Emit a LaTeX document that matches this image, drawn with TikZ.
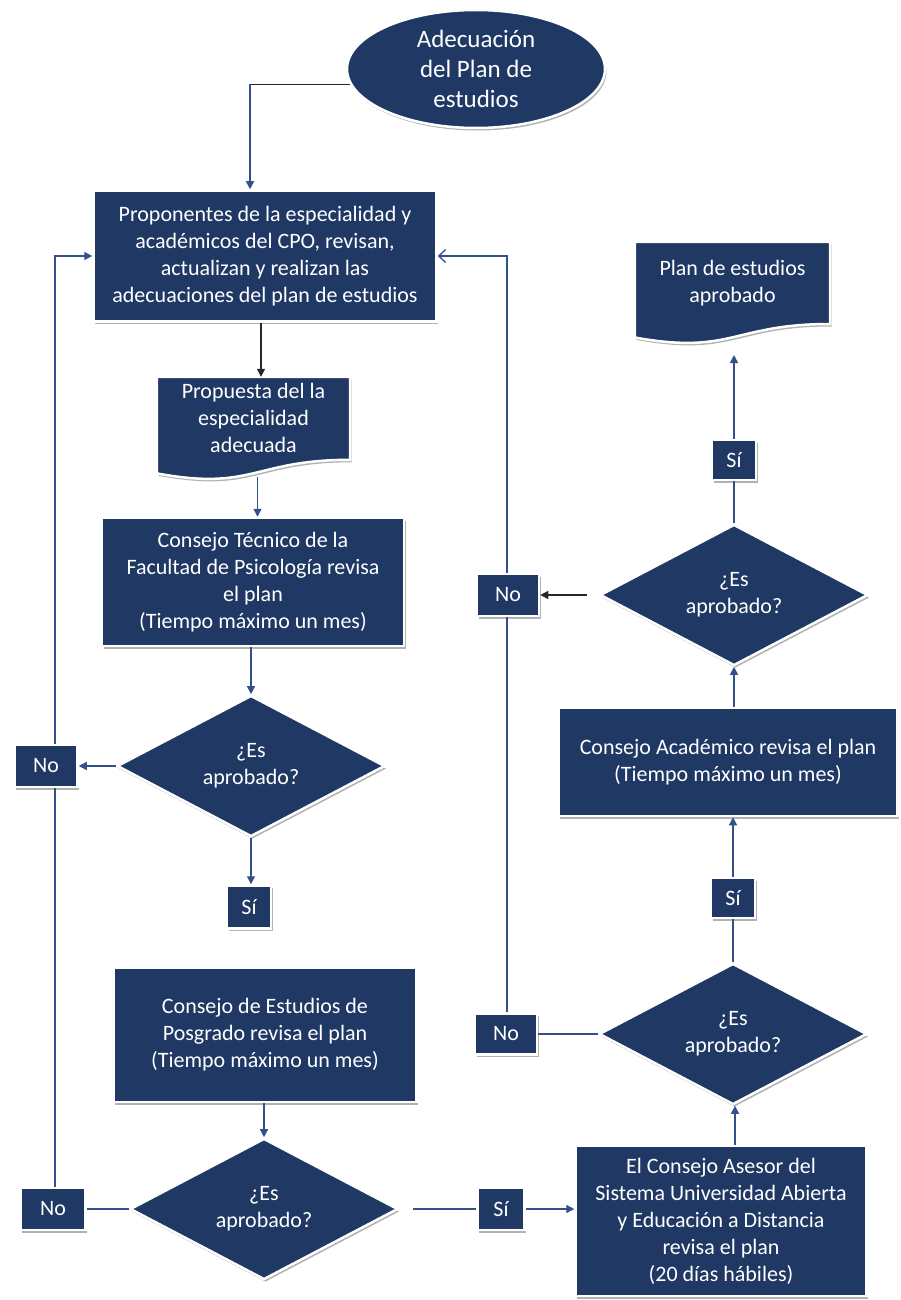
\documentclass[tikz,border=0pt]{standalone}
\usepackage{fontspec}
\setmainfont{Carlito}
\usetikzlibrary{shapes.geometric,arrows.meta,shadows,calc,backgrounds}
\definecolor{navy}{RGB}{31,56,100}
\definecolor{connc}{RGB}{52,80,138}
\tikzset{
  shade1/.style={drop shadow={shadow xshift=1.5pt,shadow yshift=-2.5pt,opacity=0.3,fill=black}},
  base/.style={fill=navy,draw=white,line width=2.5pt,text=white,align=center,inner sep=0pt,
    font=\fontsize{22}{27}\selectfont,shade1},
  box/.style={base,rectangle},
  dia/.style={base,diamond,minimum width=268pt,minimum height=120pt},
  ell/.style={base,ellipse,font=\fontsize{25}{30}\selectfont},
  doctext/.style={rectangle,text=white,align=center,inner sep=0pt,font=\fontsize{22}{27}\selectfont},
  docpath/.style={fill=navy,draw=white,line width=2.5pt,shade1},
  line/.style={draw=connc,line width=1.3pt},
  arr/.style={line,-{Triangle[length=8pt,width=8pt]}},
  blk/.style={draw=black!85,line width=1.3pt},
  blkarr/.style={blk,-{Triangle[length=8pt,width=8pt]}},
  barb/.style={line,-{Straight Barb[length=7pt,width=13pt]}}
}
\begin{document}
\begin{tikzpicture}[x=1pt,y=-1pt]
\useasboundingbox (0,0) rectangle (901,1300);

% nodes
\node[ell,minimum width=258pt,minimum height=118pt] (ell) at (476,69) {Adecuación\\del Plan de\\estudios};
\node[box,minimum width=343pt,minimum height=131pt] (box1) at (265,256)
  {Proponentes de la especialidad y\\académicos del CPO, revisan,\\actualizan y realizan las\\adecuaciones del plan de estudios};
\node[doctext,minimum width=193pt,minimum height=82.6pt] (d1) at (253.5,418.3)
  {Propuesta del la\\especialidad\\adecuada};
\node[box,minimum width=302pt,minimum height=128pt] (box2) at (253,582)
  {Consejo Técnico de la\\Facultad de Psicología revisa\\el plan\\(Tiempo máximo un mes)};
\node[dia] (dia1) at (251,766) {¿Es\\aprobado?};
\node[box,minimum width=63pt,minimum height=42pt] (no1) at (46,766) {No};
\node[box,minimum width=44pt,minimum height=43pt] (si1) at (249,907) {Sí};
\node[box,minimum width=303pt,minimum height=134pt] (box3) at (265,1035)
  {Consejo de Estudios de\\Posgrado revisa el plan\\(Tiempo máximo un mes)};
\node[dia] (dia2) at (264,1209) {¿Es\\aprobado?};
\node[box,minimum width=65pt,minimum height=42pt] (no2) at (53,1209) {No};
\node[box,minimum width=47pt,minimum height=42pt] (si2) at (501,1209) {Sí};
\node[box,minimum width=291pt,minimum height=150pt] (box4) at (721,1221)
  {El Consejo Asesor del\\Sistema Universidad Abierta\\y Educación a Distancia\\revisa el plan\\(20 días hábiles)};
\node[dia] (dia3) at (733,1034) {¿Es\\aprobado?};
\node[box,minimum width=62pt,minimum height=41pt] (no3) at (506,1034) {No};
\node[box,minimum width=44pt,minimum height=40pt] (si3) at (733,898) {Sí};
\node[box,minimum width=339pt,minimum height=108pt] (box5) at (728,762)
  {Consejo Académico revisa el plan\\(Tiempo máximo un mes)};
\node[dia] (dia4) at (734,595) {¿Es\\aprobado?};
\node[box,minimum width=62pt,minimum height=42pt] (no4) at (508,595) {No};
\node[box,minimum width=44pt,minimum height=40pt] (si4) at (734,460) {Sí};
\node[doctext,minimum width=195pt,minimum height=81.8pt] (d2) at (732.5,282.9)
  {Plan de estudios\\aprobado};

% document shapes
\begin{pgfonlayer}{background}
\path[docpath] (d1.north west) -- (d1.north east) -- (d1.south east)
  .. controls (d1.south) and ($(d1.south)+(0,31.4)$) .. ($(d1.south west)+(0,13.6)$) -- cycle;
\path[docpath] (d2.north west) -- (d2.north east) -- (d2.south east)
  .. controls (d2.south) and ($(d2.south)+(0,31.1)$) .. ($(d2.south west)+(0,13.5)$) -- cycle;
\end{pgfonlayer}

% helper coordinates
\coordinate (k1) at ($(ell.187 -| box1.north)+(-15,0)$);
\coordinate (k2) at (261,0);
\coordinate (d1b) at ($(d1.south)+(4,17)$);
\coordinate (k4) at (55,0);
\coordinate (k6) at (507,0);
\coordinate (k5) at (735,0);
\coordinate (d2b) at ($(d2.south)+(0,31)$);

% connectors
\draw[blk] (ell.187) -- (k1);
\draw[arr] (k1) -- (k1 |- box1.north);
\draw[blkarr] (box1.south -| k2) -- (d1.north -| k2);
\draw[arr] (d1b) -- (d1b |- box2.north);
\draw[arr] (box2.south -| dia1.north) -- (dia1.north);
\draw[arr] (dia1.west) -- (dia1.west -| no1.east);
\draw[arr] (no1.north -| k4) |- (box1.west);
\draw[arr] (dia1.south) -- (dia1.south |- si1.north);
\draw[arr] (box3.south -| dia2.north) -- (dia2.north);
\draw[line] (dia2.west) -- (dia2.west -| no2.east);
\draw[line] (no2.north -| k4) -- (no1.south -| k4);
\draw[line,shorten <=14pt] (dia2.east) -- (dia2.east -| si2.west);
\draw[arr] (si2.east) -- (si2.east -| box4.west);
\draw[arr] (box4.north -| k5) -- (dia3.south -| k5);
\draw[line] (dia3.west) -- (dia3.west -| no3.east);
\draw[line] (no3.north -| k6) -- (no4.south -| k6);
\draw[barb] (no4.north -| k6) |- (box1.east);
\draw[line] (dia3.north) -- (si3.south);
\draw[arr] (si3.north) -- (si3.north |- box5.south);
\draw[arr] (box5.north -| dia4.south) -- (dia4.south);
\draw[blkarr,shorten <=12pt] (dia4.west) -- (dia4.west -| no4.east);
\draw[line] (dia4.north) -- (si4.south);
\draw[arr] (si4.north) -- (si4.north |- d2b);
\end{tikzpicture}
\end{document}
